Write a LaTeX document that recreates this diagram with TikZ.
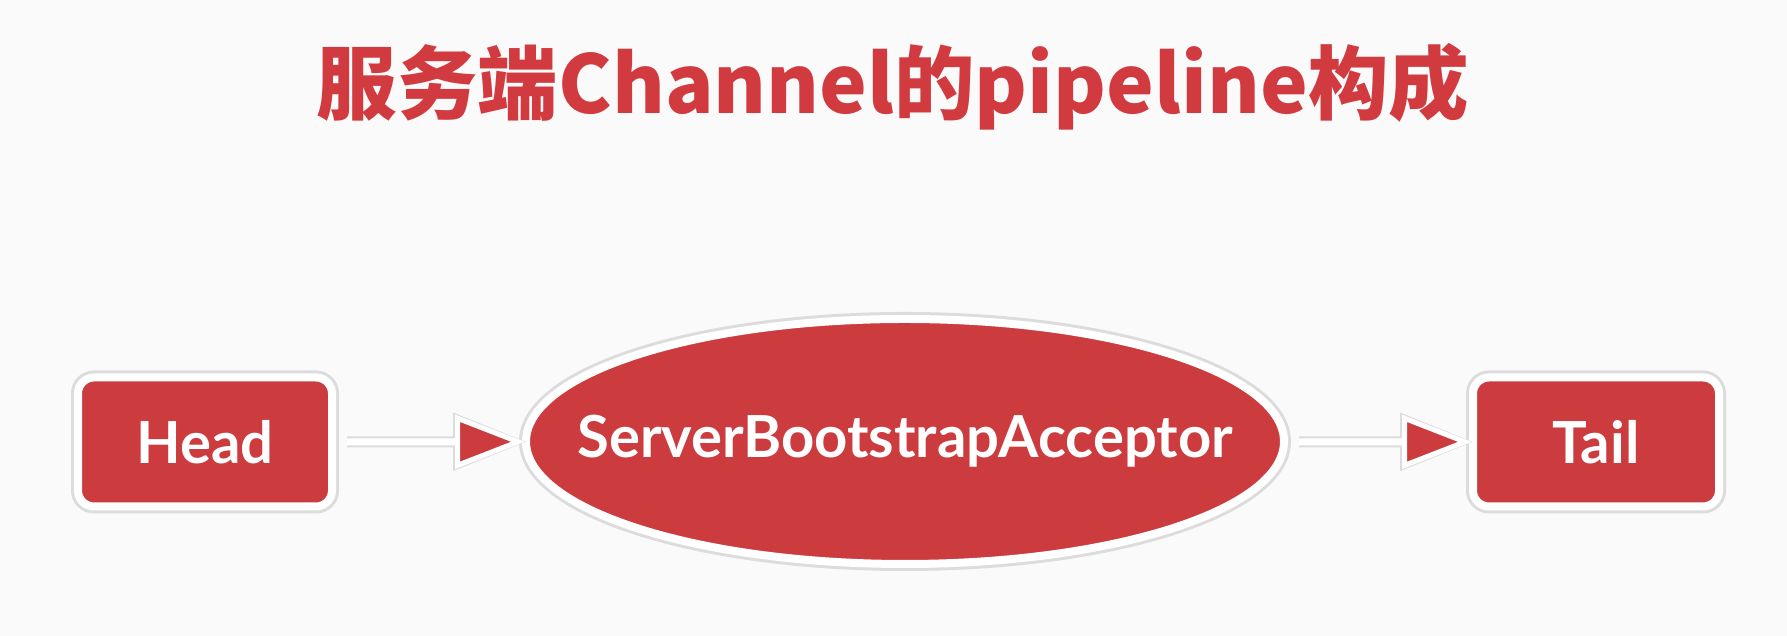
\documentclass[tikz,border=0pt]{standalone}
\usepackage{fontspec}
\setmainfont{Lato}
\newfontfamily\cjk{Noto Sans CJK SC}
\usepackage{xcolor}
\usepackage{tikz}
\usetikzlibrary{arrows.meta,positioning,shapes.geometric,backgrounds}
\definecolor{PipeRed}{HTML}{CC3B3E}
\definecolor{TitleRed}{HTML}{D13A3F}
\definecolor{PaperGray}{HTML}{FAFAFA}
\definecolor{RimGray}{HTML}{DCDCDC}

\begin{document}
\begin{tikzpicture}[x=1cm,y=1cm,
  handler/.style={fill=PipeRed,draw=white,line width=0.8mm,text=white,
    font=\fontsize{16.5}{20}\selectfont\bfseries,inner sep=0pt,outer sep=0pt},
  endbox/.style={handler,rectangle,rounded corners=1.6mm,minimum height=12.9mm},
  rimline/.style={RimGray,line width=1.4mm},
  linkrim/.style={RimGray,line width=1.1mm,shorten <=1.5mm,shorten >=0mm,
    -{Triangle[length=7.3mm,width=5.7mm,line width=0.6mm,fill=RimGray]}},
  link/.style={white,line width=0.7mm,shorten <=1.5mm,shorten >=0.1mm,
    -{Triangle[length=7mm,width=5.3mm,line width=0.5mm,fill=PipeRed]}}]
  \node[font=\cjk\fontsize{22.9}{27}\selectfont\bfseries,text=TitleRed] (title) at (8.93,5.49) {服务端Channel的pipeline构成};
  \node[endbox,minimum width=25.4mm] (head) at (2.05,1.94) {Head};
  \node[handler,ellipse,inner xsep=-8mm,minimum width=75.8mm,minimum height=24.5mm] (acc) at (9.05,1.945) {ServerBootstrapAcceptor};
  \node[endbox,minimum width=24.6mm] (tail) at (15.96,1.94) {Tail};
  % paper, then faint rims behind the white borders
  \begin{scope}[on background layer]
    \fill[PaperGray] (0,0) rectangle (17.87,6.36);
    \draw[rimline,rounded corners=1.6mm] (head.south west) rectangle (head.north east);
    \draw[rimline] (acc.center) ellipse [x radius=37.9mm,y radius=12.25mm];
    \draw[rimline,rounded corners=1.6mm] (tail.south west) rectangle (tail.north east);
  \end{scope}
  \draw[linkrim] (head) -- (acc);
  \draw[link] (head) -- (acc);
  \draw[linkrim] (acc) -- (tail);
  \draw[link] (acc) -- (tail);
\end{tikzpicture}
\end{document}
